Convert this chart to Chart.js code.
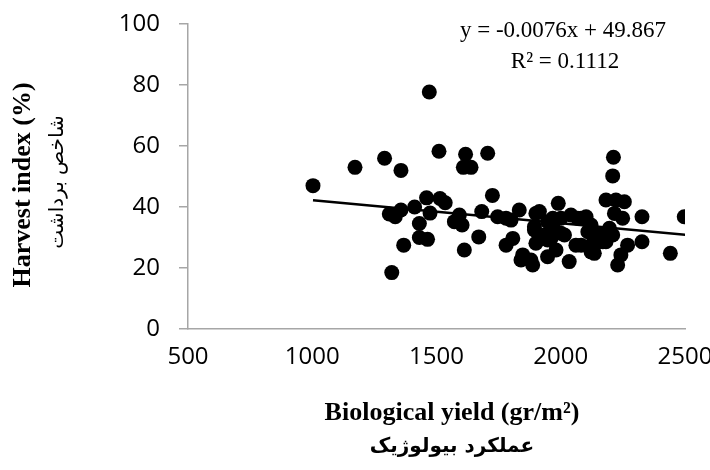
<!DOCTYPE html>
<html>
<head>
<meta charset="utf-8">
<script src="https://cdn.jsdelivr.net/npm/chart.js@4"></script>
<style>
  body { margin: 0; background: #fff; }
</style>
</head>
<body>
<canvas id="chart" width="710" height="470"></canvas>
<script>
// biological yield (gr/m2) and harvest index (%)
const yieldX = [
  1003, 1172, 1291, 1357, 1471, 1510, 1617, 1608, 1639, 1706, 1725,
  1310, 1334, 1357, 1412, 1460, 1474, 1514, 1535, 1431, 1431, 1464,
  1368, 1320, 1592, 1572, 1603, 1682, 1670, 1612,
  2212, 2209, 1746, 1780, 1800, 1833, 1900, 1914, 1990, 1947, 1968,
  1894, 2001, 2041, 2068, 2082, 2102, 2122, 1894, 1974, 2001, 2015,
  2109, 1961, 1934, 1807, 1780, 1900, 1947, 2061, 2082, 2135, 2129,
  2169, 1847, 1880, 1887, 1947, 1981, 2034, 2122, 2135, 2182, 2222,
  2256, 2216, 2249, 2327, 2497, 2196, 2155, 2209, 2182, 2269, 2327,
  2242, 2441, 2229, 1840
];
const harvestY = [
  47, 53, 56, 52, 77.7, 58.3, 57.3, 53, 53, 57.6, 43.8,
  37.7, 36.8, 39, 40, 43, 38, 42.8, 41.4, 34.6, 30, 29.4,
  27.5, 18.5, 37.4, 35.2, 34.1, 38.5, 30.2, 25.9,
  56.3, 50.2, 36.8, 36.3, 35.7, 39, 37.9, 38.5, 41.2, 35.2, 36.3,
  33.5, 36.3, 37.4, 36.3, 36.3, 36.8, 34.1, 32.5, 32.5, 31.4, 30.8,
  31.9, 29.7, 30.8, 29.7, 27.5, 28.1, 29.2, 27.5, 27.5, 27.5, 28.1,
  28.6, 24.3, 22.6, 21, 23.7, 25.9, 22.1, 25.3, 24.8, 42.3, 42.3,
  41.7, 37.9, 36.3, 36.8, 36.8, 33, 30.8, 30.8, 28.6, 27.5, 28.6,
  24.3, 24.8, 21, 22.6
];

// trend line end points
const trendX = [1003, 2501];
const trendY = [42.2, 30.9];

const xTicks = [500, 1000, 1500, 2000, 2500];
const yTicks = [0, 20, 40, 60, 80, 100];

const eqLines = ['y = -0.0076x + 49.867', 'R\u00B2 = 0.1112'];
const xTitle = ['Biological yield (gr/m\u00B2)', 'عملکرد بیولوژیک'];
const yTitle = ['Harvest index (%)', 'شاخص برداشت'];

const axisGray = '#a6a6a6';

const textPlugin = {
  id: 'texts',
  afterDraw(chart) {
    const ctx = chart.ctx;
    ctx.save();
    ctx.fillStyle = '#000';
    ctx.textAlign = 'center';
    ctx.textBaseline = 'middle';

    ctx.font = '23px "Liberation Serif"';
    ctx.fillText(eqLines[0], 563, 31);
    ctx.fillText(eqLines[1], 565, 62);

    ctx.font = 'bold 26px "Liberation Serif"';
    ctx.fillText(xTitle[0], 452, 413);
    ctx.font = 'bold 20px "DejaVu Sans"';
    ctx.fillText(xTitle[1], 452, 447);

    ctx.translate(23, 185);
    ctx.rotate(-Math.PI / 2);
    ctx.font = 'bold 26px "Liberation Serif"';
    ctx.fillText(yTitle[0], 0, 0);
    ctx.font = '20px "DejaVu Sans"';
    ctx.fillText(yTitle[1], 3, 35);
    ctx.restore();
  }
};

const points = yieldX.map((x, i) => ({ x: x, y: harvestY[i] }));
const trend = trendX.map((x, i) => ({ x: x, y: trendY[i] }));

new Chart(document.getElementById('chart'), {
  type: 'scatter',
  data: {
    datasets: [
      {
        data: trend,
        showLine: true,
        borderColor: '#000',
        borderWidth: 2.5,
        pointRadius: 0,
        pointHoverRadius: 0
      },
      {
        data: points,
        backgroundColor: '#000',
        borderWidth: 0,
        pointRadius: 7.5,
        pointHoverRadius: 7.5
      }
    ]
  },
  options: {
    responsive: false,
    animation: false,
    devicePixelRatio: 1,
    layout: { padding: { top: 24, right: 25, left: 0, bottom: 0 } },
    plugins: { legend: { display: false }, tooltip: { enabled: false } },
    scales: {
      x: {
        type: 'linear',
        min: 500,
        max: 2500,
        afterBuildTicks: s => { s.ticks = xTicks.map(v => ({ value: v })); },
        afterFit: s => { s.height = 141; s.paddingLeft = 0; s.paddingRight = 0; },
        grid: { drawOnChartArea: false, drawTicks: false },
        border: { color: axisGray, width: 1.5 },
        ticks: {
          color: '#000',
          padding: 14,
          maxRotation: 0,
          callback: v => String(v),
          font: { family: 'Open Sans', size: 24 }
        }
      },
      y: {
        type: 'linear',
        min: 0,
        max: 100,
        afterBuildTicks: s => { s.ticks = yTicks.map(v => ({ value: v })); },
        afterFit: s => { s.width = 188; s.paddingTop = 0; s.paddingBottom = 0; },
        grid: { drawOnChartArea: false, tickLength: 9, color: axisGray, lineWidth: 1.5 },
        border: { color: axisGray, width: 1.5 },
        ticks: {
          color: '#000',
          padding: 19,
          callback: v => String(v),
          font: { family: 'Open Sans', size: 24 }
        }
      }
    }
  },
  plugins: [textPlugin]
});
</script>
</body>
</html>
